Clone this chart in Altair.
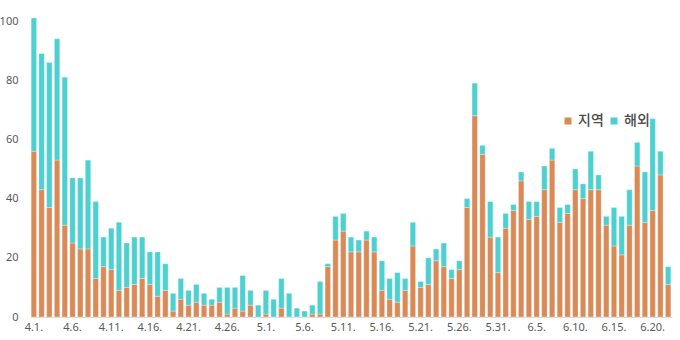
import altair as alt
import pandas as pd

# Dates 4.1 .. 6.22
days = ([f"4.{d}." for d in range(1, 31)] +
        [f"5.{d}." for d in range(1, 32)] +
        [f"6.{d}." for d in range(1, 23)])

local = [56, 43, 37, 53, 31, 25, 23, 23, 13, 17, 16, 9, 10, 11, 13, 11, 7, 9, 2, 6,
         4, 5, 4, 4, 5, 1, 3, 2, 4, 0,
         1, 0, 3, 0, 0, 0, 1, 1, 17, 26, 29, 22, 22, 26, 22, 9, 6, 5, 9, 24,
         10, 11, 19, 17, 13, 16, 37, 68, 55, 27, 15,
         30, 36, 46, 33, 34, 43, 53, 32, 35, 43, 40, 43, 43, 31, 24, 21, 31, 51, 32, 36,
         48, 11]

abroad = [45, 46, 49, 41, 50, 22, 24, 30, 26, 10, 14, 23, 15, 16, 14, 11, 15, 9, 6, 7,
          5, 6, 4, 2, 5, 9, 7, 12, 5, 4,
          8, 6, 10, 8, 3, 2, 3, 11, 1, 8, 6, 5, 4, 3, 5, 10, 7, 10, 4, 8,
          2, 9, 4, 8, 3, 3, 3, 11, 3, 12, 12,
          5, 2, 3, 6, 5, 8, 4, 5, 3, 7, 5, 13, 5, 3, 13, 13, 12, 8, 17, 31,
          8, 6]

series_names = ["지역", "해외"]
colors = ["#D98A57", "#4DD0D0"]
y_ticks = [0, 20, 40, 60, 80, 100]

rows = []
for i, d in enumerate(days):
    rows.append({"day": d, "series": series_names[0], "value": local[i], "ord": 0})
    rows.append({"day": d, "series": series_names[1], "value": abroad[i], "ord": 1})
df = pd.DataFrame(rows)

chart = alt.Chart(df).mark_bar(
    stroke="white", strokeWidth=0.6, strokeOpacity=0.5
).encode(
    x=alt.X("day:O", sort=days, title=None,
            scale=alt.Scale(paddingInner=0.3, paddingOuter=0.15),
            axis=alt.Axis(values=days[::5], labelAngle=0, ticks=False,
                          domainColor="#D9D9D9", domainWidth=1,
                          labelColor="#595959", labelFontSize=11,
                          labelFont="Noto Sans", labelPadding=4)),
    y=alt.Y("value:Q", stack="zero", title=None,
            scale=alt.Scale(domain=[0, 100], nice=False),
            axis=alt.Axis(values=y_ticks, grid=False, ticks=False, domain=False,
                          labelColor="#595959", labelFontSize=11,
                          labelFont="Noto Sans", labelPadding=12)),
    color=alt.Color("series:N", scale=alt.Scale(domain=series_names, range=colors),
                    legend=alt.Legend(title=None, orient="none", legendX=531, legendY=93,
                                      direction="horizontal", symbolType="square",
                                      symbolSize=49, symbolStrokeWidth=0,
                                      labelFontSize=14, labelColor="#4a4a4a",
                                      labelFont="Noto Sans CJK KR", labelFontWeight=500,
                                      columnPadding=3, labelOffset=3, padding=0)),
    order=alt.Order("ord:Q", sort="ascending"),
).properties(
    width=642, height=296,
    padding={"left": 30, "top": 21, "right": 8, "bottom": 23},
    autosize=alt.AutoSizeParams(type="none"),
).configure_view(stroke=None)

chart.save("out.html", embed_options={"renderer": "svg", "actions": False})
